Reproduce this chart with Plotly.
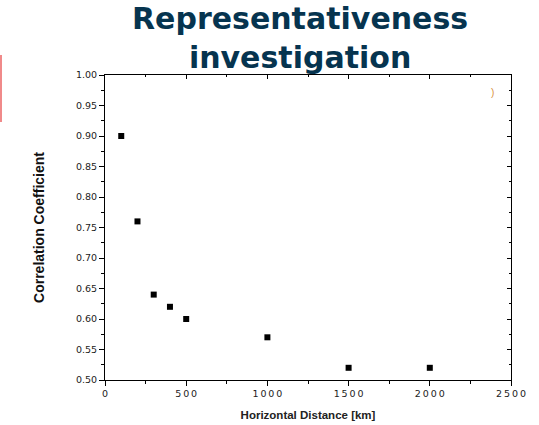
import plotly.graph_objects as go

distance_km = [100, 200, 300, 400, 500, 1000, 1500, 2000]
correlation = [0.90, 0.76, 0.64, 0.62, 0.60, 0.57, 0.52, 0.52]
y_ticks = [0.50, 0.55, 0.60, 0.65, 0.70, 0.75, 0.80, 0.85, 0.90, 0.95, 1.00]
x_ticks = [0, 500, 1000, 1500, 2000, 2500]

W, H = 539, 425
L, R, T, B = 105, 28, 75, 45
pw, ph = W - L - R, H - T - B

def px_x(p):
    return (p - L) / pw

def px_y(p):
    return (H - B - p) / ph

THIN = "\u2009"
tickfont = dict(family="DejaVu Sans", size=9.5, color="#222222")

fig = go.Figure()
fig.add_trace(go.Scatter(
    x=distance_km, y=correlation, mode="markers",
    marker=dict(symbol="square", size=6, color="black", line=dict(width=0)),
    showlegend=False,
))
fig.add_trace(go.Scatter(x=[None], y=[None], xaxis="x2", yaxis="y2", showlegend=False))

axis_common = dict(showgrid=False, zeroline=False, showline=True, linecolor="black",
                   linewidth=1, automargin=False)

fig.update_layout(
    width=W, height=H,
    margin=dict(l=L, r=R, t=T, b=B),
    paper_bgcolor="white", plot_bgcolor="white",
    xaxis=dict(range=[0, 2500], tickvals=x_ticks,
               ticktext=[THIN.join(str(v)) for v in x_ticks],
               ticks="outside", ticklen=5, tickwidth=1, tickcolor="black",
               minor=dict(dtick=250, tick0=0, ticks="outside", ticklen=3, tickcolor="black"),
               tickfont=tickfont,
               title=dict(text="<b>Horizontal Distance [km]</b>",
                          font=dict(family="Liberation Sans, Arial", size=11.5, color="#222222"),
                          standoff=12),
               **axis_common),
    yaxis=dict(range=[0.5, 1.0], tickvals=y_ticks, ticktext=[f"{v:.2f}" for v in y_ticks],
               ticks="outside", ticklen=5, tickwidth=1, tickcolor="black",
               minor=dict(dtick=0.025, tick0=0.5, ticks="outside", ticklen=3, tickcolor="black"),
               tickfont=tickfont,
               title=dict(text="<b>Correlation Coefficient</b>",
                          font=dict(family="Liberation Sans Narrow, Liberation Sans, Arial", size=14, color="#111111"),
                          standoff=28),
               **axis_common),
    xaxis2=dict(overlaying="x", side="top", range=[0, 2500], tickvals=x_ticks,
                showticklabels=False, ticks="inside", ticklen=4, tickcolor="black",
                minor=dict(dtick=250, tick0=0, ticks="inside", ticklen=2, tickcolor="black"),
                **axis_common),
    yaxis2=dict(overlaying="y", side="right", range=[0.5, 1.0], tickvals=y_ticks,
                showticklabels=False, ticks="inside", ticklen=4, tickcolor="black",
                minor=dict(dtick=0.025, tick0=0.5, ticks="inside", ticklen=2, tickcolor="black"),
                **axis_common),
)

fig.add_annotation(
    text="<b>Representativeness<br>investigation</b>",
    xref="paper", yref="paper", x=px_x(300), y=px_y(38),
    xanchor="center", yanchor="middle", showarrow=False,
    font=dict(family="DejaVu Sans", size=30, color="#06344f"),
    align="center",
)
fig.add_annotation(
    text=")", xref="paper", yref="paper", x=px_x(492), y=px_y(92),
    xanchor="center", yanchor="middle", showarrow=False,
    font=dict(family="Liberation Sans", size=10, color="#d89040"),
)
fig.add_shape(type="rect", xref="paper", yref="paper",
              x0=px_x(0), x1=px_x(2), y0=px_y(122), y1=px_y(55),
              fillcolor="#f08a8a", line=dict(width=0))

fig.write_html("out.html")
